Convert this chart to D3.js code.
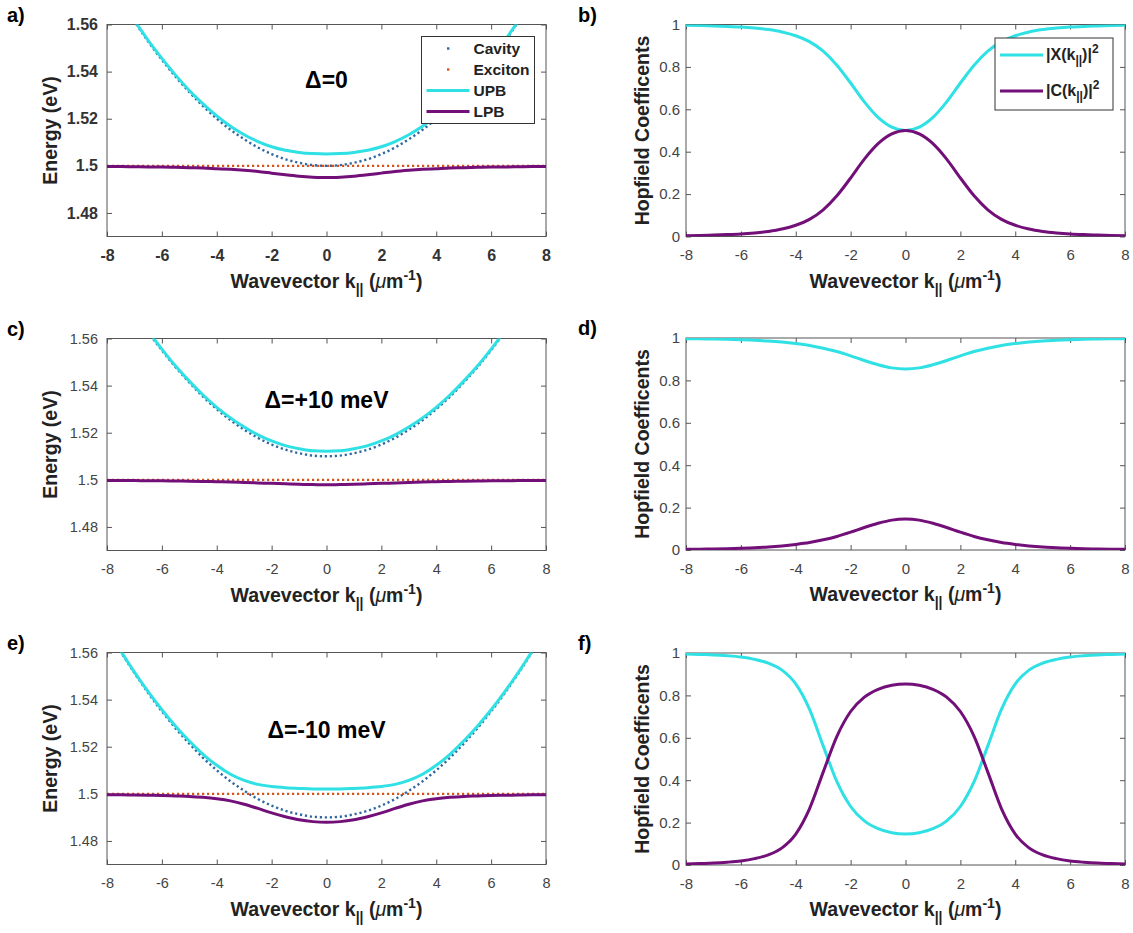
<!DOCTYPE html>
<html>
<head>
<meta charset="utf-8">
<script src="https://cdn.jsdelivr.net/npm/d3@7"></script>
<style>
  body { margin: 0; background: #fff; }
  text { font-family: "Liberation Sans", Arial, sans-serif; }
</style>
</head>
<body>
<svg id="chart" width="1133" height="933"></svg>
<script>
// wavevector grid, um^-1
const kVals = [-8,-7.5,-7,-6.5,-6,-5.5,-5,-4.5,-4,-3.5,-3,-2.5,-2,-1.5,-1,-0.5,0,0.5,1,1.5,2,2.5,3,3.5,4,4.5,5,5.5,6,6.5,7,7.5,8]

const kTicks = [-8,-6,-4,-2,0,2,4,6,8]
const kTickLabels = ['-8','-6','-4','-2','0','2','4','6','8']
const energyTicks = [1.48,1.5,1.52,1.54,1.56]
const energyTickLabels = ['1.48','1.5','1.52','1.54','1.56']
const hopTicks = [0,0.2,0.4,0.6,0.8,1]
const hopTickLabels = ['0','0.2','0.4','0.6','0.8','1']

// exciton level (flat)
const excitonK = [-8, 8]
const excitonEnergy = [1.5, 1.5]

// a) detuning 0
const cavityA = [1.5800,1.5703,1.5613,1.5528,1.5450,1.5378,1.5313,1.5253,1.5200,1.5153,1.5113,1.5078,1.5050,1.5028,1.5013,1.5003,1.5000,1.5003,1.5013,1.5028,1.5050,1.5078,1.5113,1.5153,1.5200,1.5253,1.5313,1.5378,1.5450,1.5528,1.5613,1.5703,1.5800]
const upbA = [1.5803,1.5707,1.5617,1.5533,1.5456,1.5385,1.5320,1.5263,1.5212,1.5168,1.5132,1.5103,1.5081,1.5066,1.5057,1.5052,1.5050,1.5052,1.5057,1.5066,1.5081,1.5103,1.5132,1.5168,1.5212,1.5263,1.5320,1.5385,1.5456,1.5533,1.5617,1.5707,1.5803]
const lpbA = [1.4997,1.4997,1.4996,1.4995,1.4995,1.4994,1.4992,1.4991,1.4988,1.4985,1.4981,1.4976,1.4969,1.4962,1.4956,1.4952,1.4950,1.4952,1.4956,1.4962,1.4969,1.4976,1.4981,1.4985,1.4988,1.4991,1.4992,1.4994,1.4995,1.4995,1.4996,1.4997,1.4997]
// b) Hopfield coefficients, detuning 0
const xB = [0.996,0.995,0.993,0.991,0.988,0.983,0.976,0.965,0.947,0.919,0.874,0.808,0.724,0.635,0.562,0.516,0.500,0.516,0.562,0.635,0.724,0.808,0.874,0.919,0.947,0.965,0.976,0.983,0.988,0.991,0.993,0.995,0.996]
const cB = [0.004,0.005,0.007,0.009,0.012,0.017,0.024,0.035,0.053,0.081,0.126,0.192,0.276,0.365,0.438,0.484,0.500,0.484,0.438,0.365,0.276,0.192,0.126,0.081,0.053,0.035,0.024,0.017,0.012,0.009,0.007,0.005,0.004]

// c) detuning +10 meV
const cavityC = [1.5900,1.5803,1.5713,1.5628,1.5550,1.5478,1.5413,1.5353,1.5300,1.5253,1.5213,1.5178,1.5150,1.5128,1.5113,1.5103,1.5100,1.5103,1.5113,1.5128,1.5150,1.5178,1.5213,1.5253,1.5300,1.5353,1.5413,1.5478,1.5550,1.5628,1.5713,1.5803,1.5900]
const upbC = [1.5903,1.5806,1.5716,1.5632,1.5555,1.5483,1.5419,1.5360,1.5308,1.5263,1.5224,1.5191,1.5165,1.5145,1.5132,1.5123,1.5121,1.5123,1.5132,1.5145,1.5165,1.5191,1.5224,1.5263,1.5308,1.5360,1.5419,1.5483,1.5555,1.5632,1.5716,1.5806,1.5903]
const lpbC = [1.4997,1.4997,1.4997,1.4996,1.4996,1.4995,1.4994,1.4993,1.4992,1.4991,1.4989,1.4987,1.4985,1.4983,1.4981,1.4980,1.4979,1.4980,1.4981,1.4983,1.4985,1.4987,1.4989,1.4991,1.4992,1.4993,1.4994,1.4995,1.4996,1.4996,1.4997,1.4997,1.4997]
// d)
const xD = [0.997,0.996,0.995,0.994,0.992,0.989,0.986,0.981,0.974,0.965,0.952,0.936,0.916,0.894,0.874,0.859,0.854,0.859,0.874,0.894,0.916,0.936,0.952,0.965,0.974,0.981,0.986,0.989,0.992,0.994,0.995,0.996,0.997]
const cD = [0.003,0.004,0.005,0.006,0.008,0.011,0.014,0.019,0.026,0.035,0.048,0.064,0.084,0.106,0.126,0.141,0.146,0.141,0.126,0.106,0.084,0.064,0.048,0.035,0.026,0.019,0.014,0.011,0.008,0.006,0.005,0.004,0.003]

// e) detuning -10 meV
const cavityE = [1.5700,1.5603,1.5513,1.5428,1.5350,1.5278,1.5213,1.5153,1.5100,1.5053,1.5013,1.4978,1.4950,1.4928,1.4913,1.4903,1.4900,1.4903,1.4913,1.4928,1.4950,1.4978,1.5013,1.5053,1.5100,1.5153,1.5213,1.5278,1.5350,1.5428,1.5513,1.5603,1.5700]
const upbE = [1.5704,1.5607,1.5517,1.5434,1.5357,1.5287,1.5224,1.5168,1.5121,1.5083,1.5057,1.5040,1.5031,1.5026,1.5023,1.5021,1.5021,1.5021,1.5023,1.5026,1.5031,1.5040,1.5057,1.5083,1.5121,1.5168,1.5224,1.5287,1.5357,1.5434,1.5517,1.5607,1.5704]
const lpbE = [1.4996,1.4996,1.4995,1.4994,1.4993,1.4991,1.4989,1.4985,1.4979,1.4970,1.4956,1.4938,1.4919,1.4903,1.4890,1.4882,1.4879,1.4882,1.4890,1.4903,1.4919,1.4938,1.4956,1.4970,1.4979,1.4985,1.4989,1.4991,1.4993,1.4994,1.4995,1.4996,1.4996]
// f)
const xF = [0.995,0.993,0.991,0.987,0.981,0.970,0.952,0.919,0.854,0.735,0.562,0.393,0.276,0.208,0.171,0.152,0.146,0.152,0.171,0.208,0.276,0.393,0.562,0.735,0.854,0.919,0.952,0.970,0.981,0.987,0.991,0.993,0.995]
const cF = [0.005,0.007,0.009,0.013,0.019,0.030,0.048,0.081,0.146,0.265,0.438,0.607,0.724,0.792,0.829,0.848,0.854,0.848,0.829,0.792,0.724,0.607,0.438,0.265,0.146,0.081,0.048,0.030,0.019,0.013,0.009,0.007,0.005]

const cyan = '#2fe0e4'
const purple = '#720f78'
const cavityCol = '#2f68a0'
const excitonCol = '#d95319'

const W = 439, H = 212

const energyPanels = [
  {letter: 'a)', left: 107, top: 24.5, bold: true, cav: cavityA, upb: upbA, lpb: lpbA, note: 'Δ=0', noteY: 1.5365, legend: true},
  {letter: 'c)', left: 107, top: 338.5, bold: false, cav: cavityC, upb: upbC, lpb: lpbC, note: 'Δ=+10 meV', noteY: 1.534},
  {letter: 'e)', left: 107, top: 652.5, bold: false, cav: cavityE, upb: upbE, lpb: lpbE, note: 'Δ=-10 meV', noteY: 1.527}
]
const hopPanels = [
  {letter: 'b)', left: 686, top: 24.5, x: xB, c: cB, legend: true},
  {letter: 'd)', left: 686, top: 338, x: xD, c: cD},
  {letter: 'f)', left: 686, top: 653, x: xF, c: cF}
]

const svg = d3.select('#chart')
svg.append('rect').attr('width', 1133).attr('height', 933).attr('fill', '#fff')

const xScale = d3.scaleLinear().domain([-8, 8]).range([0, W])

function frame(g, yScale, yTicks, yLabels, opts, id) {
  const bold = opts.bold
  const tickFont = opts.font
  const bottom = g.append('g').attr('transform', `translate(0,${H})`)
    .call(d3.axisBottom(xScale).tickValues(kTicks).tickFormat((d, i) => kTickLabels[i]).tickSizeInner(-5).tickSizeOuter(0).tickPadding(13))
  const left = g.append('g')
    .call(d3.axisLeft(yScale).tickValues(yTicks).tickFormat((d, i) => yLabels[i]).tickSizeInner(-5).tickSizeOuter(0).tickPadding(opts.pad))
  g.append('g').call(d3.axisTop(xScale).tickValues(kTicks).tickFormat('').tickSizeInner(-5).tickSizeOuter(0))
  g.append('g').attr('transform', `translate(${W},0)`)
    .call(d3.axisRight(yScale).tickValues(yTicks).tickFormat('').tickSizeInner(-5).tickSizeOuter(0))
  g.selectAll('.domain').remove()
  g.selectAll('.tick line').attr('stroke', '#555')
  ;[bottom, left].forEach(a => a.selectAll('text')
    .attr('font-size', tickFont)
    .attr('font-weight', bold ? 'bold' : 'normal')
    .attr('fill', bold ? '#333' : '#444')
    .attr('font-family', '"Liberation Sans", Arial, sans-serif'))
  g.append('rect').attr('width', W).attr('height', H)
    .attr('fill', 'none').attr('stroke', '#555').attr('stroke-width', 1)
  g.append('clipPath').attr('id', id).append('rect').attr('width', W).attr('height', H)
}

function xLabel(g) {
  const t = g.append('text')
    .attr('x', W / 2).attr('y', H + 51)
    .attr('text-anchor', 'middle')
    .attr('font-size', 19.5).attr('font-weight', 'bold').attr('fill', '#222')
  t.append('tspan').text('Wavevector k')
  t.append('tspan').attr('dy', 6).attr('font-size', 14).text('||')
  t.append('tspan').attr('dy', -6).text(' (')
  t.append('tspan').attr('font-style', 'italic').attr('font-weight', 'normal').text('μ')
  t.append('tspan').text('m')
  t.append('tspan').attr('dy', -8).attr('font-size', 14).text('-1')
  t.append('tspan').attr('dy', 8).text(')')
}

function yLabel(g, txt, x) {
  g.append('text')
    .attr('transform', `translate(${x},${H / 2}) rotate(-90)`)
    .attr('text-anchor', 'middle')
    .attr('font-size', 19.5).attr('font-weight', 'bold').attr('fill', '#222')
    .text(txt)
}

function letter(g, txt, x, y) {
  svg.append('text').attr('x', x).attr('y', y)
    .attr('font-family', '"Open Sans", sans-serif')
    .attr('font-size', 20).attr('font-weight', 'bold').attr('fill', '#000')
    .text(txt)
}

function pts(ks, vs) { return ks.map((k, i) => [k, vs[i]]) }

energyPanels.forEach((p, idx) => {
  const g = svg.append('g').attr('transform', `translate(${p.left},${p.top})`)
  const yScale = d3.scaleLinear().domain([1.47, 1.56]).range([H, 0])
  const clipId = 'clipE' + idx
  frame(g, yScale, energyTicks, energyTickLabels, {bold: p.bold, font: p.bold ? 16 : 14.5, pad: 9}, clipId)
  const line = d3.line().x(d => xScale(d[0])).y(d => yScale(d[1])).curve(d3.curveMonotoneX)
  const plot = g.append('g').attr('clip-path', `url(#${clipId})`)
  plot.append('path').attr('d', line(pts(kVals, p.cav)))
    .attr('fill', 'none').attr('stroke', cavityCol).attr('stroke-width', 2.4).attr('stroke-dasharray', '2.2,2.8')
  plot.append('path').attr('d', line(pts(excitonK, excitonEnergy)))
    .attr('fill', 'none').attr('stroke', excitonCol).attr('stroke-width', 2.4).attr('stroke-dasharray', '2.2,2.8')
  plot.append('path').attr('d', line(pts(kVals, p.upb)))
    .attr('fill', 'none').attr('stroke', cyan).attr('stroke-width', 3)
  plot.append('path').attr('d', line(pts(kVals, p.lpb)))
    .attr('fill', 'none').attr('stroke', purple).attr('stroke-width', 3)

  g.append('text').attr('x', xScale(0)).attr('y', yScale(p.noteY))
    .attr('dy', '0.35em').attr('text-anchor', 'middle')
    .attr('font-family', '"Open Sans", sans-serif')
    .attr('font-size', 23).attr('font-weight', 'bold').attr('fill', '#000')
    .text(p.note)

  xLabel(g)
  yLabel(g, 'Energy (eV)', -50)
  letter(g, p.letter, 7, p.top - 3)

  if (p.legend) {
    const lg = g.append('g').attr('transform', `translate(${421.5 - p.left},${36.5 - p.top})`)
    lg.append('rect').attr('width', 113).attr('height', 87).attr('fill', '#fff').attr('stroke', '#333').attr('stroke-width', 1)
    const items = [
      {name: 'Cavity', col: cavityCol, dot: true},
      {name: 'Exciton', col: excitonCol, dot: true},
      {name: 'UPB', col: cyan},
      {name: 'LPB', col: purple}
    ]
    items.forEach((it, i) => {
      const yy = 12 + i * 21
      if (it.dot) {
        lg.append('rect').attr('x', 25.5).attr('y', yy - 1.2).attr('width', 2.4).attr('height', 2.4).attr('fill', it.col)
      } else {
        lg.append('line').attr('x1', 5).attr('x2', 48).attr('y1', yy).attr('y2', yy).attr('stroke', it.col).attr('stroke-width', 3)
      }
      lg.append('text').attr('x', 52).attr('y', yy).attr('dy', '0.35em')
        .attr('font-size', 15.5).attr('font-weight', 'bold').attr('fill', '#222').text(it.name)
    })
  }
})

hopPanels.forEach((p, idx) => {
  const g = svg.append('g').attr('transform', `translate(${p.left},${p.top})`)
  const yScale = d3.scaleLinear().domain([0, 1]).range([H, 0])
  const clipId = 'clipH' + idx
  frame(g, yScale, hopTicks, hopTickLabels, {bold: false, font: 15, pad: 6}, clipId)
  const line = d3.line().x(d => xScale(d[0])).y(d => yScale(d[1])).curve(d3.curveMonotoneX)
  const plot = g.append('g').attr('clip-path', `url(#${clipId})`)
  plot.append('path').attr('d', line(pts(kVals, p.x)))
    .attr('fill', 'none').attr('stroke', cyan).attr('stroke-width', 3)
  plot.append('path').attr('d', line(pts(kVals, p.c)))
    .attr('fill', 'none').attr('stroke', purple).attr('stroke-width', 3)

  xLabel(g)
  yLabel(g, 'Hopfield Coefficents', -37)
  letter(g, p.letter, 578, p.top - 3)

  if (p.legend) {
    const lg = g.append('g').attr('transform', `translate(${995 - p.left},${38 - p.top})`)
    lg.append('rect').attr('width', 118).attr('height', 72).attr('fill', '#fff').attr('stroke', '#333').attr('stroke-width', 1)
    const items = [{sym: 'X', col: cyan}, {sym: 'C', col: purple}]
    items.forEach((it, i) => {
      const yy = 17 + i * 36
      lg.append('line').attr('x1', 5).attr('x2', 48).attr('y1', yy).attr('y2', yy).attr('stroke', it.col).attr('stroke-width', 3)
      const t = lg.append('text').attr('x', 51).attr('y', yy + 5)
        .attr('font-size', 16).attr('font-weight', 'bold').attr('fill', '#222')
      t.append('tspan').text('|' + it.sym + '(k')
      t.append('tspan').attr('dy', 4).attr('font-size', 12).text('||')
      t.append('tspan').attr('dy', -4).text(')|')
      t.append('tspan').attr('dy', -7).attr('font-size', 12).text('2')
    })
  }
})
</script>
</body>
</html>
